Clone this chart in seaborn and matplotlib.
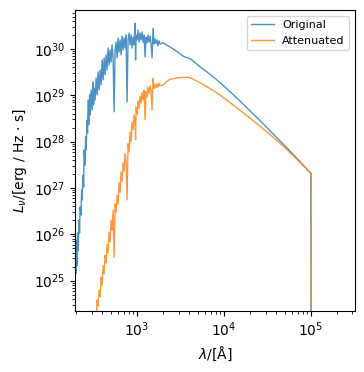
import matplotlib
matplotlib.use("Agg")
import matplotlib.pyplot as plt
import seaborn as sns

# Wavelength grid [Angstrom] and luminosity [erg / Hz s]
wave_orig = [
    199, 201.6, 204, 207, 210, 215.4, 218, 221, 227, 230,
    233, 239.5, 243, 246, 252.5, 256, 259, 266, 269.5, 273,
    281, 284.5, 288, 296, 304, 312, 316, 320, 329, 338,
    347, 356, 366, 376, 386, 396, 407, 418, 429, 440,
    452, 464, 477, 489, 502, 516, 530, 544, 559, 574,
    589, 605, 621, 638, 655, 672, 690, 709, 728, 747,
    767, 788, 809, 831, 853, 876, 900, 924, 948, 961,
    974, 1000, 1027, 1054, 1083, 1112, 1141, 1172, 1204, 1236,
    1269, 1303, 1338, 1374, 1411, 1449, 1487, 1527, 1568, 1610,
    1653, 1698, 1743, 1790, 1838,
    1990, 2390, 2880, 3380, 3700, 4060, 4500, 5300, 6380, 8300,
    10000, 12700, 16000, 19900, 25000, 33800, 47700, 65500, 100000, 100500,
    230000,
]
lum_orig = [
    1.44e25, 7.5e25, 2.1e25, 1.07e26, 4.5e25, 2e26, 1.07e26, 3.9e26, 2.6e26, 9e26,
    5.5e26, 1.9e27, 1.05e27, 6.6e27, 3.1e27, 1.26e28, 6.6e27, 2.9e28, 1.55e28, 7.9e28,
    2.3e28, 1.02e29, 3.75e28, 1.3e29, 4.8e28, 1.94e29, 6.2e28, 1.44e29, 7.9e28, 2.36e29,
    1.02e29, 3.2e29, 1.3e29, 3.5e29, 1.67e29, 5.8e29, 2.14e29, 6.4e29, 2.75e29, 7.4e29,
    3.5e29, 1.05e30, 4.5e29, 9.5e29, 5.2e29, 1.22e30, 6.4e29, 4.4e28, 9.5e29, 1.4e30,
    6.4e29, 1.73e30, 8.6e29, 1.56e30, 7.4e29, 1.9e30, 9.5e29, 1.73e30, 1.05e30, 2.0e30,
    7.2e28, 1.56e30, 2.2e30, 1.22e30, 2.0e30, 1.05e30, 1.8e30, 1.22e30, 3.6e30, 5.8e29,
    2.0e30, 1.56e30, 2.57e30, 1.4e30, 2.2e30, 1.56e30, 2.33e30, 1.4e30, 2.0e30, 6.7e29,
    1.8e30, 1.35e30, 2.0e30, 1.4e30, 1.9e30, 1.28e30, 6.4e29, 2.8e30, 1.28e30, 1.64e30,
    1.3e30, 1.56e30, 1.16e30, 1.49e30, 1.28e30,
    1.35e30, 1.1e30, 8.8e29, 7.0e29, 6.5e29, 6.2e29, 5.3e29, 4.1e29, 3.18e29, 2.14e29,
    1.57e29, 1.04e29, 6.9e28, 4.6e28, 3.05e28, 1.72e28, 8.9e27, 4.8e27, 2.05e27, 1e12,
    1e12,
]

wave_att = [
    329, 338, 347, 356, 366, 376, 386, 396, 407, 418,
    429, 440, 452, 464, 477, 489, 502, 516, 530, 544,
    559, 574, 589, 605, 621, 638, 655, 672, 690, 709,
    728, 747, 767, 788, 809, 831, 853, 876, 900, 924,
    948, 961, 974, 1000, 1027, 1054, 1083, 1112, 1141, 1172,
    1204, 1236, 1269, 1303, 1338, 1374, 1411, 1449, 1487, 1527,
    1568, 1610, 1653, 1698, 1743, 1790, 1838,
    1990, 2200, 2390, 2880, 3380, 3860, 4300, 5300, 6380, 8300,
    10000, 12700, 16000, 19900, 25000, 33800, 47700, 65500, 100000, 100500,
    230000,
]
lum_att = [
    8e23, 1.5e24, 3.8e24, 2.8e24, 6.2e24, 4.5e24, 1.2e25, 8e24, 2.1e25, 1.4e25,
    3.5e25, 2.4e25, 6e25, 4e25, 1.1e26, 7e25, 2.0e26, 1.2e26, 3.3e26, 3.2e25,
    4.5e26, 3e26, 7e26, 4.5e26, 1.3e27, 8e26, 2.2e27, 1.4e27, 3.5e27, 2.3e27,
    5.5e27, 3.8e27, 5.5e26, 9e27, 6e27, 1.6e28, 1.0e28, 2.6e28, 1.8e28, 3.8e28,
    2.6e28, 1.1e28, 5.5e28, 3.8e28, 7.5e28, 5.2e28, 9.5e28, 6.8e28, 1.15e29, 8e28,
    1.3e29, 3e28, 1.2e29, 9e28, 1.5e29, 1.1e29, 1.6e29, 1.25e29, 4.8e28, 2.3e29,
    1.4e29, 1.7e29, 1.45e29, 1.75e29, 1.5e29, 1.8e29, 1.6e29,
    1.67e29, 2.0e29, 2.2e29, 2.38e29, 2.42e29, 2.45e29, 2.28e29, 1.85e29, 1.52e29, 1.12e29,
    8.7e28, 6.2e28, 4.45e28, 3.2e28, 2.27e28, 1.42e28, 8.07e27, 4.6e27, 2.05e27, 1e12,
    1e12,
]

fig, ax = plt.subplots(figsize=(3.64, 3.72), dpi=100)
fig.subplots_adjust(left=0.207, right=0.975, bottom=0.165, top=0.973)

sns.lineplot(x=wave_orig, y=lum_orig, ax=ax, label="Original",
             color="C0", lw=1, alpha=0.8, estimator=None)
sns.lineplot(x=wave_att, y=lum_att, ax=ax, label="Attenuated",
             color="C1", lw=1, alpha=0.8, estimator=None)

ax.set_xscale("log")
ax.set_yscale("log")
ax.set_xlim(195, 3.2e5)
ax.set_ylim(2.25e24, 6.9e30)

ax.set_xlabel(r"$\lambda$/[Å]")
ax.set_ylabel(r"$L_\nu$/[erg / Hz $\cdot$ s]")
ax.legend(loc="upper right", fontsize=8)

fig.savefig("out.png", dpi=100)
